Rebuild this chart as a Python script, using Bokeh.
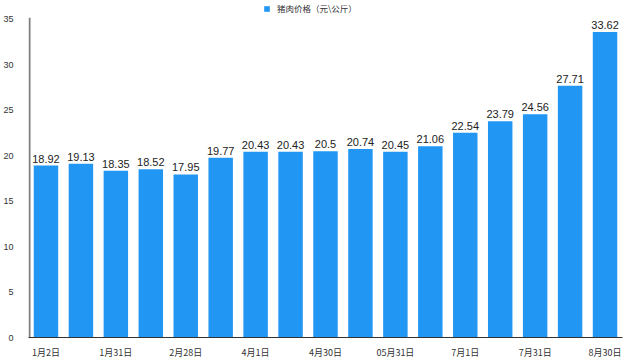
from bokeh.plotting import figure
from bokeh.models import ColumnDataSource, FixedTicker, Range1d, Legend, LegendItem
from bokeh.core.properties import value
from bokeh.embed import file_html
from bokeh.resources import INLINE

prices = [18.92, 19.13, 18.35, 18.52, 17.95, 19.77, 20.43, 20.43, 20.5,
          20.74, 20.45, 21.06, 22.54, 23.79, 24.56, 27.71, 33.62]
price_labels = ["18.92", "19.13", "18.35", "18.52", "17.95", "19.77", "20.43", "20.43", "20.5",
                "20.74", "20.45", "21.06", "22.54", "23.79", "24.56", "27.71", "33.62"]
tick_labels = ["1月2日", "1月31日", "2月28日", "4月1日", "4月30日",
               "05月31日", "7月1日", "7月31日", "8月30日"]
y_ticks = [0, 5, 10, 15, 20, 25, 30, 35]
series_name = "猪肉价格（元\\公斤）"

idx = list(range(len(prices)))
src = ColumnDataSource(dict(x=idx, y=prices, lab=price_labels))

x_start, x_end = -0.5, len(prices) - 0.5
y_top = 36.87
p = figure(width=624, height=361, output_backend="svg", toolbar_location=None,
           x_range=Range1d(x_start, x_end), y_range=Range1d(0, y_top),
           min_border_left=20, min_border_right=2, min_border_top=2, min_border_bottom=21)
p.outline_line_color = None
p.background_fill_color = "white"
p.xgrid.grid_line_color = None
p.ygrid.grid_line_color = None

# vertical axis line, stopping just above the top tick like the reference
p.segment(x0=[x_start + 0.03], y0=[0], x1=[x_start + 0.03], y1=[max(y_ticks) + 0.2],
          line_color="#808080", line_width=2)

BLUE = "#2196F3"
r = p.vbar(x="x", top="y", width=0.7, source=src, fill_color=BLUE, line_color=None)
p.text(x="x", y="y", text="lab", source=src, text_align="center", text_baseline="bottom",
       y_offset=-3, text_font=value("Liberation Sans"), text_font_size="11px",
       text_color="#222222")

tick_pos = list(range(0, len(prices), 2))
p.xaxis.ticker = FixedTicker(ticks=tick_pos)
p.xaxis.major_label_overrides = {pos: lab for pos, lab in zip(tick_pos, tick_labels)}
p.xaxis.major_tick_line_color = None
p.xaxis.minor_tick_line_color = None
p.xaxis.axis_line_color = "#333333"
p.xaxis.axis_line_width = 1.2
p.xaxis.major_label_text_font = "Noto Sans CJK SC"
p.xaxis.major_label_text_font_size = "9px"
p.xaxis.major_label_text_color = "#333333"
p.xaxis.major_label_standoff = 2

p.yaxis.ticker = FixedTicker(ticks=y_ticks)
p.yaxis.major_tick_line_color = None
p.yaxis.minor_tick_line_color = None
p.yaxis.axis_line_color = None
p.yaxis.major_label_text_font = "Liberation Sans"
p.yaxis.major_label_text_font_size = "9px"
p.yaxis.major_label_text_color = "#333333"
p.yaxis.major_label_standoff = 9

legend = Legend(items=[LegendItem(label=series_name, renderers=[r])],
                location=(235, 323), orientation="horizontal",
                label_text_font="Noto Sans CJK SC", label_text_font_size="8.5px",
                label_text_color="#333333", glyph_width=7, glyph_height=7,
                label_height=10, label_standoff=7, padding=0, margin=0, spacing=0,
                border_line_color=None, background_fill_alpha=0)
p.add_layout(legend)

open("out.html", "w").write(file_html(p, INLINE))
